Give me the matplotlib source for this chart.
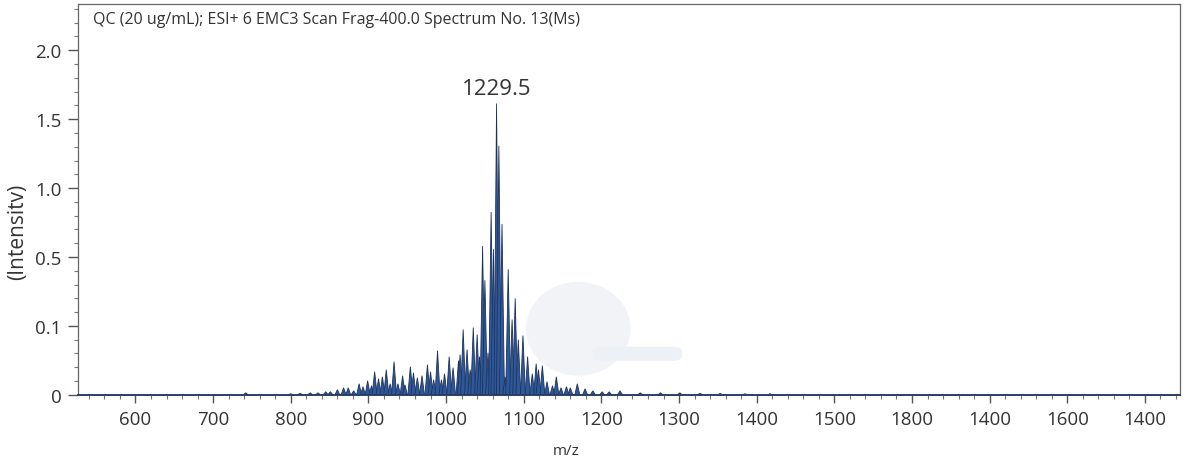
import numpy as np
import matplotlib
matplotlib.use("Agg")
import matplotlib.pyplot as plt
from matplotlib.patches import Ellipse, FancyBboxPatch
from matplotlib.ticker import FixedLocator, NullFormatter

plt.rcParams['font.family'] = ['Open Sans', 'DejaVu Sans']

# peak list (axis units, intensity)
peak_mz = [742, 800, 812, 825, 835, 845, 851, 860, 868, 874, 881, 888, 893, 899, 904,
           908, 913, 918, 923, 928, 933, 938, 944, 947, 954, 958, 963, 969, 976, 980,
           984, 989, 994, 998, 1004, 1009, 1016, 1018, 1022, 1027, 1031, 1035, 1040, 1043,
           1047, 1050, 1054, 1058, 1061, 1065, 1068, 1072, 1076, 1080, 1085, 1089, 1093,
           1099, 1105, 1111, 1116, 1119, 1124, 1130, 1137, 1142, 1148, 1155, 1160, 1169,
           1179, 1189, 1201, 1210, 1224, 1250, 1276, 1301, 1327, 1353, 1385, 1417]
peak_int = [0.0029, 0.0015, 0.0022, 0.0029, 0.0029, 0.0044, 0.0044, 0.0073, 0.0102, 0.0102,
            0.0058, 0.016, 0.0117, 0.0204, 0.0131, 0.0335, 0.0233, 0.0262, 0.0364, 0.016,
            0.0481, 0.016, 0.0277, 0.0146, 0.0408, 0.0321, 0.0248, 0.0277, 0.0437, 0.0335,
            0.0219, 0.0641, 0.0219, 0.0306, 0.0554, 0.0394, 0.0496, 0.0583, 0.0948, 0.0656,
            0.0364, 0.0977, 0.0875, 0.0554, 0.579, 0.365, 0.0612, 0.826, 0.557, 1.614,
            1.307, 0.739, 0.0262, 0.429, 0.137, 0.260, 0.0802, 0.086, 0.0554, 0.0306,
            0.0452, 0.0364, 0.0423, 0.019, 0.0131, 0.0262, 0.0102, 0.0117, 0.0102, 0.016,
            0.0087, 0.0058, 0.0044, 0.0044, 0.0058, 0.0029, 0.0029, 0.0029, 0.0022, 0.002,
            0.0015, 0.0015]

x_ticks = [600, 700, 800, 900, 1000, 1100, 1200, 1300, 1400, 1500, 1600, 1700, 1800, 1900]
x_labels = ['600', '700', '800', '900', '1000', '1100', '1200', '1300', '1400', '1500',
            '1800', '1400', '1600', '1400']
y_ticks = [0, 0.1, 0.5, 1.0, 1.5, 2.0]
y_labels = ['0', '0.1', '0.5', '1.0', '1.5', '2.0']
y_steps = [0, 0.1, 0.5, 1.0, 1.5, 2.0, 2.5]

peak_label = '1229.5'
title = 'QC (20 ug/mL); ESI+ 6 EMC3 Scan Frag-400.0 Spectrum No. 13(Ms)'

idx = np.arange(len(y_steps), dtype=float)


def fwd(y):
    return np.interp(y, y_steps, idx)


def inv(p):
    return np.interp(p, idx, y_steps)


fig = plt.figure(figsize=(11.93, 4.64), dpi=100)
ax = fig.add_axes([0.0654, 0.147, 0.9236, 0.842])
ax.set_yscale('function', functions=(fwd, inv))

# faint watermark behind the data
ax.add_patch(Ellipse((0.454, 0.169), 0.095, 0.24, transform=ax.transAxes,
                     facecolor='#f1f3f7', edgecolor='none', zorder=0))
ax.add_patch(FancyBboxPatch((0.467, 0.087), 0.081, 0.036, boxstyle='round,pad=0,rounding_size=0.01',
                            transform=ax.transAxes, facecolor='#edf0f5', edgecolor='none', zorder=0))

# each peak as a narrow spike
hw = 3.2
for m, v in zip(peak_mz, peak_int):
    ax.fill([m - hw, m, m + hw], [0, v, 0], facecolor='#2f5899', edgecolor='#1c325e',
            linewidth=0.6, zorder=2)

top = int(np.argmax(peak_int))
ax.annotate(peak_label, (peak_mz[top], peak_int[top]), xytext=(0, 3), textcoords='offset points',
            ha='center', va='bottom', fontsize=16, color='#333333')

ax.set_xlim(526, 1945)
ax.set_ylim(0, inv(5.67))

ax.set_xticks(x_ticks)
ax.set_xticklabels(x_labels)
ax.xaxis.set_minor_locator(FixedLocator(np.arange(520, 1950, 20)))
ax.set_yticks(y_ticks)
ax.set_yticklabels(y_labels)
ax.yaxis.set_minor_locator(FixedLocator(inv(np.arange(0, 5.7, 0.2))))
ax.yaxis.set_minor_formatter(NullFormatter())

ax.tick_params(axis='both', which='major', labelsize=13.5, labelcolor='#333333', color='#555555')
ax.tick_params(axis='x', which='major', length=6, width=1, pad=5)
ax.tick_params(axis='y', which='major', length=7, width=1, pad=5)
ax.tick_params(axis='both', which='minor', length=3, width=0.8, color='#777777')

for side in ['top', 'right', 'left']:
    ax.spines[side].set_color('#666666')
    ax.spines[side].set_linewidth(0.9)
ax.spines['bottom'].set_color('#2a3f63')
ax.spines['bottom'].set_linewidth(1.4)

ax.text(0.014, 0.962, title, transform=ax.transAxes, fontsize=11.5, color='#333333', va='center')
fig.text(566 / 1193, 1 - 452 / 464, 'm/z', ha='center', va='center', fontsize=11, color='#333333')
fig.text(18 / 1193, 1 - 232 / 464, '(Intensitv)', ha='center', va='center', rotation=90,
         fontsize=15, color='#333333')

fig.savefig('out.png', dpi=100, facecolor='white')
